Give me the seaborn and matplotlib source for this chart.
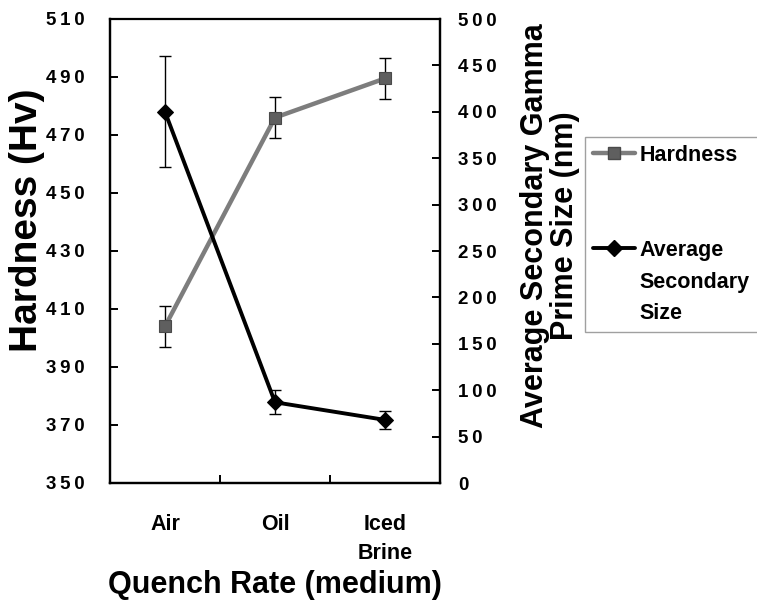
import numpy as np
import pandas as pd
import matplotlib
matplotlib.use("Agg")
import matplotlib.pyplot as plt
import seaborn as sns
from matplotlib.lines import Line2D
from matplotlib.ticker import FixedLocator

categories = ["Air", "Oil", "Iced\nBrine"]
hardness = [404, 476, 489.5]
hardness_err = [7, 7, 7]
gamma_size = [400, 87, 68]
gamma_err = [60, 13, 10]
left_ticks = [350, 370, 390, 410, 430, 450, 470, 490, 510]
right_ticks = [0, 50, 100, 150, 200, 250, 300, 350, 400, 450, 500]

sns.set_style("white")
plt.rcParams["font.family"] = ["Liberation Sans", "DejaVu Sans"]
plt.rcParams["font.weight"] = "bold"
plt.rcParams["text.color"] = "black"
plt.rcParams["axes.labelcolor"] = "black"
plt.rcParams["xtick.color"] = "black"
plt.rcParams["ytick.color"] = "black"


def spaced(v):
    return "\u2009".join(str(v))


fig = plt.figure(figsize=(7.57, 6.07), dpi=100)
ax = fig.add_axes([110 / 757, 1 - 483 / 607, 330 / 757, (483 - 19) / 607])
ax2 = ax.twinx()

pos = np.arange(len(categories))
df = pd.DataFrame({"pos": pos, "hardness": hardness, "gamma": gamma_size})

hard_color = "#7d7d7d"
sns.lineplot(data=df, x="pos", y="hardness", ax=ax, color=hard_color, lw=3.2,
             marker="s", markersize=8, markerfacecolor="#5f5f5f",
             markeredgecolor="#4a4a4a", markeredgewidth=0.8, legend=False, zorder=3)
ax.errorbar(pos, hardness, yerr=hardness_err, fmt="none", ecolor="black",
            elinewidth=1.0, capsize=4, capthick=1.0, zorder=2)

sns.lineplot(data=df, x="pos", y="gamma", ax=ax2, color="black", lw=2.8,
             marker="D", markersize=8, markerfacecolor="black",
             markeredgecolor="black", legend=False, zorder=3)
ax2.errorbar(pos, gamma_size, yerr=gamma_err, fmt="none", ecolor="black",
             elinewidth=1.0, capsize=4, capthick=1.0, zorder=2)

ax.set_xlim(-0.5, len(categories) - 0.5)
ax.set_ylim(350, 510)
ax2.set_ylim(0, 500)
ax.set_yticks(left_ticks)
ax.set_yticklabels([spaced(t) for t in left_ticks])
ax2.set_yticks(right_ticks)
ax2.set_yticklabels([spaced(t) for t in right_ticks])
ax.set_xticks(pos)
ax.set_xticklabels(categories)
ax.xaxis.set_minor_locator(FixedLocator([0.5, 1.5]))

ax.set_xlabel("")
ax.set_ylabel("")
ax2.set_ylabel("")

for a in (ax, ax2):
    for s in a.spines.values():
        s.set_visible(True)
        s.set_color("black")
        s.set_linewidth(1.6)
ax.spines["top"].set_linewidth(1.2)

ax.tick_params(axis="y", direction="in", length=6, width=1.4, pad=18,
               labelsize=13.5, left=True, right=False, colors="black")
ax2.tick_params(axis="y", direction="in", length=6, width=1.4, pad=13,
                labelsize=13.5, right=True, left=False, colors="black")
ax.tick_params(axis="x", which="major", length=0, pad=22, labelsize=15.5,
               colors="black")
ax.tick_params(axis="x", which="minor", direction="in", length=6, width=1.4,
               bottom=True, colors="black")
for lab in ax.get_xticklabels():
    lab.set_linespacing(1.5)
    lab.set_fontweight("bold")
for lab in ax.get_yticklabels() + ax2.get_yticklabels():
    lab.set_fontweight("bold")

fig.text(27 / 757, 1 - 220 / 607, "Hardness (Hv)", rotation=90, ha="center",
         va="center", fontsize=28, fontweight="bold", color="black")
fig.text(550 / 757, 1 - 226 / 607, "Average Secondary Gamma\nPrime Size (nm)",
         rotation=90, ha="center", va="center", multialignment="center",
         linespacing=1.0, fontsize=22, fontweight="bold", color="black")
fig.text(275 / 757, 1 - 585 / 607, "Quench Rate (medium)", ha="center",
         va="center", fontsize=22, fontweight="bold", color="black")

blank = Line2D([], [], linestyle="none", marker=None)
handles = [
    Line2D([], [], color=hard_color, lw=3.2, marker="s", markersize=8,
           markerfacecolor="#5f5f5f", markeredgecolor="#4a4a4a"),
    blank,
    blank,
    Line2D([], [], color="black", lw=2.8, marker="D", markersize=8,
           markerfacecolor="black"),
    blank,
    blank,
]
labels = ["Hardness", " ", " ", "Average", "Secondary", "Size"]
leg = fig.legend(handles, labels,
                 loc="upper left", bbox_to_anchor=(585 / 757, 1 - 137 / 607),
                 frameon=True, fancybox=False, fontsize=15.5, labelspacing=0.5,
                 handlelength=1.95, handletextpad=0.25, borderpad=0.35,
                 borderaxespad=0)
leg.get_frame().set_edgecolor("#888888")
leg.get_frame().set_linewidth(1.0)
for t in leg.get_texts():
    t.set_fontweight("bold")
    t.set_color("black")

fig.savefig("out.png", dpi=100)
